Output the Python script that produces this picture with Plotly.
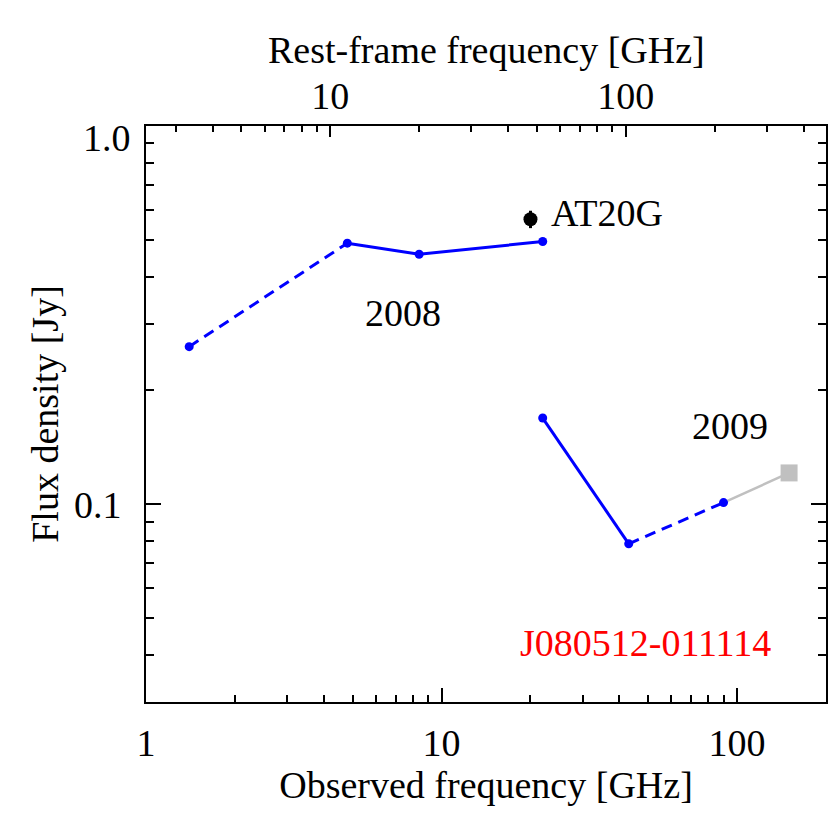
import numpy as np
import plotly.graph_objects as go

# ---- data ----
freq_2008 = [1.4, 4.8, 8.4, 22.0]
flux_2008 = [0.261, 0.490, 0.458, 0.495]
freq_2009 = [22.0, 43.0, 90.0]
flux_2009 = [0.169, 0.0786, 0.101]
freq_extra = [90.0, 150.0]
flux_extra = [0.101, 0.121]
at20g_freq = [20.0]
at20g_flux = [0.567]
at20g_err = [0.03]
one_plus_z = 2.38

x_major = [1, 10, 100]
x_major_text = ["1", "10", "100"]
y_major = [0.1, 1.0]
y_major_text = ["0.1", ""]
top_major = [10, 100]
top_major_text = ["10", "100"]

FONT = "Liberation Serif, Times New Roman, serif"
FS = 38
BLUE = "#0000ff"
GRAY = "#c0c0c0"

def minors(lo, hi):
    out = []
    for d in range(-3, 4):
        for m in range(2, 10):
            v = m * 10.0 ** d
            if lo < v < hi:
                out.append(v)
    return out

fig = go.Figure()

dash_style = "11px,7px"
# 2008: dashed first segment, solid afterwards
fig.add_trace(go.Scatter(x=freq_2008[:2], y=flux_2008[:2], mode="lines",
                         line=dict(color=BLUE, width=3, dash=dash_style), showlegend=False))
fig.add_trace(go.Scatter(x=freq_2008[1:], y=flux_2008[1:], mode="lines",
                         line=dict(color=BLUE, width=3), showlegend=False))
# 2009: solid first segment, dashed second
fig.add_trace(go.Scatter(x=freq_2009[:2], y=flux_2009[:2], mode="lines",
                         line=dict(color=BLUE, width=3), showlegend=False))
fig.add_trace(go.Scatter(x=freq_2009[1:], y=flux_2009[1:], mode="lines",
                         line=dict(color=BLUE, width=3, dash=dash_style), showlegend=False))
# gray extension
fig.add_trace(go.Scatter(x=freq_extra, y=flux_extra, mode="lines",
                         line=dict(color=GRAY, width=2.5), showlegend=False))
fig.add_trace(go.Scatter(x=freq_extra[1:], y=flux_extra[1:], mode="markers",
                         marker=dict(color=GRAY, size=17, symbol="square"), showlegend=False))
# blue points
fig.add_trace(go.Scatter(x=freq_2008 + freq_2009, y=flux_2008 + flux_2009, mode="markers",
                         marker=dict(color=BLUE, size=9), showlegend=False))
# AT20G
fig.add_trace(go.Scatter(x=at20g_freq, y=at20g_flux, mode="markers",
                         marker=dict(color="black", size=14),
                         error_y=dict(type="data", array=at20g_err, color="black", thickness=3, width=0),
                         showlegend=False))

xr = [0, np.log10(200)]
axis_common = dict(type="log", showline=True, linecolor="black", linewidth=2,
                   ticks="inside", tickcolor="black", tickwidth=2,
                   showgrid=False, zeroline=False,
                   tickfont=dict(family=FONT, size=FS, color="black"))

fig.update_layout(
    width=830, height=830,
    paper_bgcolor="white", plot_bgcolor="white",
    margin=dict(l=146, r=4, t=126, b=128, autoexpand=False),
    font=dict(family=FONT, size=FS, color="black"),
    xaxis=dict(**axis_common, range=xr, tickmode="array", tickvals=x_major, ticktext=x_major_text,
               ticklen=14, ticklabelstandoff=6,
               minor=dict(tickmode="array", tickvals=minors(1, 200), ticks="inside", ticklen=7,
                          tickcolor="black", tickwidth=2, showgrid=False),
               title=dict(text="Observed frequency [GHz]", font=dict(family=FONT, size=FS), standoff=2)),
    xaxis2=dict(**axis_common, overlaying="x", side="top", anchor="y",
                range=[np.log10(one_plus_z), np.log10(200 * one_plus_z)],
                tickmode="array", tickvals=top_major, ticktext=top_major_text,
                ticklen=11, ticklabelstandoff=0,
                minor=dict(tickmode="array", tickvals=minors(one_plus_z, 200 * one_plus_z), ticks="inside",
                           ticklen=6, tickcolor="black", tickwidth=2, showgrid=False)),
    yaxis=dict(**axis_common, range=[np.log10(0.03), 0], mirror="ticks",
               tickmode="array", tickvals=y_major, ticktext=y_major_text,
               ticklen=15, ticklabelstandoff=15,
               minor=dict(tickmode="array", tickvals=minors(0.03, 1.0), ticks="inside", ticklen=8,
                          tickcolor="black", tickwidth=2, showgrid=False),
               title=dict(text="Flux density [Jy]", font=dict(family=FONT, size=FS), standoff=4)),
    showlegend=False,
)

# helper trace so the top axis is drawn
fig.add_trace(go.Scatter(x=[one_plus_z, 200 * one_plus_z], y=[0.03, 0.03], xaxis="x2", yaxis="y",
                         mode="lines", line=dict(width=0), hoverinfo="skip", showlegend=False))

def px(xpix, ypix):
    return (xpix - 146) / 680, (702 - ypix) / 576

def ann(text, xy, xanchor="center", color="black"):
    fig.add_annotation(text=text, x=xy[0], y=xy[1], xref="paper", yref="paper", showarrow=False,
                       xanchor=xanchor, yanchor="middle",
                       font=dict(family=FONT, size=FS, color=color))

ann("AT20G", px(549, 213), xanchor="left")
ann("2008", px(403, 313))
ann("2009", px(730, 426))
ann("J080512-011114", px(645.5, 643), color="red")
ann("Rest-frame frequency [GHz]", px(486.5, 50))
ann("1.0", px(133, 138), xanchor="right")

fig.write_html("out.html", config={"displayModeBar": False},
               post_script="document.body.style.margin='0';")
